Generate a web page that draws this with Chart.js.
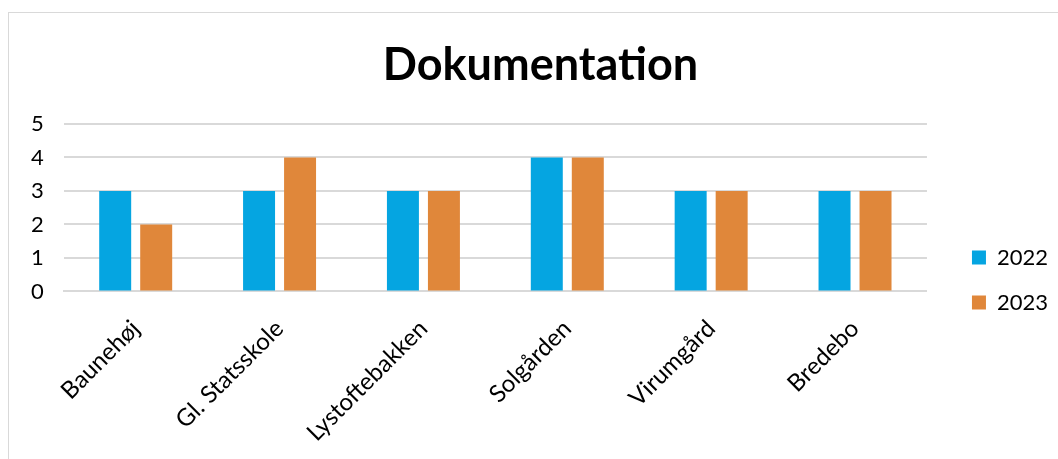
<!DOCTYPE html>
<html>
<head>
<meta charset="utf-8">
<script src="https://cdn.jsdelivr.net/npm/chart.js@4"></script>
<style>
  html, body { margin: 0; padding: 0; background: #fff; overflow: hidden; }
  #wrap {
    position: absolute; left: 8px; top: 12px;
    width: 1064px; height: 460px;
    border: 1px solid #d9d9d9; box-sizing: border-box;
  }
</style>
</head>
<body>
<div id="wrap"><canvas id="myChart"></canvas></div>
<script>
// data
const categories = ['Baunehøj', 'Gl. Statsskole', 'Lystoftebakken', 'Solgården', 'Virumgård', 'Bredebo'];
const values2022 = [3, 3, 3, 4, 3, 3];
const values2023 = [2, 4, 3, 4, 3, 3];
const yTicks = [0, 1, 2, 3, 4, 5];

const legendGap = 22;    // extra space between plot and legend
const legendShiftY = 30; // legend sits a bit lower than centred
const titleShiftX = 6;

// nudge legend and title into place after layout
const nudgePlugin = {
  id: 'nudge',
  beforeLayout(chart) {
    const legend = chart.legend;
    if (legend && !legend._gapPatched) {
      const origFit = legend.fit;
      legend.fit = function () {
        origFit.call(this);
        this.width += legendGap;
      };
      legend._gapPatched = true;
    }
  },
  afterLayout(chart) {
    if (chart.legend) {
      chart.legend.left += legendGap;
      chart.legend.top += legendShiftY;
      chart.legend.bottom += legendShiftY;
    }
    if (chart.titleBlock) {
      chart.titleBlock.left += titleShiftX;
      chart.titleBlock.right += titleShiftX;
    }
  }
};

const myChartCanvas = document.getElementById('myChart');

const myChart = new Chart(myChartCanvas, {
  type: 'bar',
  data: {
    labels: categories,
    datasets: [{
      label: '2022',
      data: values2022,
      backgroundColor: '#05a5e1',
      categoryPercentage: 0.57,
      barPercentage: 0.78
    }, {
      label: '2023',
      data: values2023,
      backgroundColor: '#e0873a',
      categoryPercentage: 0.57,
      barPercentage: 0.78
    }]
  },
  plugins: [nudgePlugin],
  options: {
    responsive: true,
    maintainAspectRatio: false,
    animation: false,
    layout: { padding: { left: 2, right: 13, top: 25, bottom: 9 } },
    plugins: {
      title: {
        display: true,
        text: 'Dokumentation',
        color: '#000',
        font: { family: 'Lato', size: 45, weight: 'bold' },
        padding: { top: 0, bottom: 32 }
      },
      legend: {
        position: 'right',
        labels: {
          color: '#000',
          font: { family: 'Lato', size: 22 },
          boxWidth: 14,
          boxHeight: 14,
          padding: 23
        }
      },
      tooltip: { enabled: false }
    },
    scales: {
      x: {
        grid: { display: false },
        border: { display: true, color: '#d9d9d9', width: 2 },
        ticks: {
          color: '#000',
          font: { family: 'Lato', size: 24 },
          maxRotation: 45,
          minRotation: 45,
          padding: 15
        }
      },
      y: {
        min: 0,
        max: 5,
        afterBuildTicks: axis => { axis.ticks = yTicks.map(v => ({ value: v })); },
        grid: { color: '#d9d9d9', lineWidth: 2, drawTicks: false },
        border: { display: false },
        ticks: {
          color: '#000',
          font: { family: 'Lato', size: 22 },
          autoSkip: false,
          padding: 20
        }
      }
    }
  }
});
</script>
</body>
</html>
